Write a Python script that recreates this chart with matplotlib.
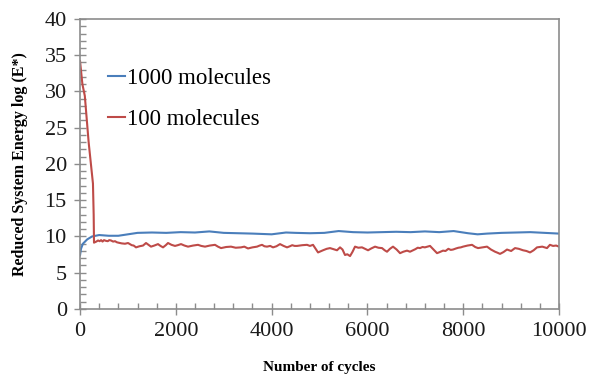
import matplotlib.pyplot as plt
from matplotlib.ticker import MultipleLocator

plt.rcParams['font.family'] = ['Liberation Serif', 'DejaVu Serif']

# 1000 molecules
cycles_1000 = [0, 20, 60, 150, 250, 400, 600, 800, 1000, 1200, 1500, 1800, 2100, 2400,
               2700, 3000, 3300, 3600, 4000, 4300, 4500, 4800, 5100, 5400, 5700, 6000,
               6300, 6600, 6900, 7200, 7500, 7800, 8100, 8300, 8500, 8800, 9100, 9400,
               9700, 10000]
energy_1000 = [7.4, 8.3, 9.0, 9.6, 10.0, 10.2, 10.1, 10.1, 10.3, 10.5, 10.55, 10.5, 10.6,
               10.55, 10.7, 10.5, 10.45, 10.4, 10.3, 10.55, 10.5, 10.45, 10.5, 10.75, 10.6,
               10.55, 10.6, 10.65, 10.6, 10.7, 10.6, 10.75, 10.45, 10.3, 10.4, 10.5, 10.55,
               10.6, 10.5, 10.4]

# 100 molecules
cycles_100 = [0, 50, 100, 180, 270, 285, 292, 340, 376, 410, 440, 470, 501, 540, 580, 610,
              647, 690, 731, 770, 800, 870, 939, 1002, 1040, 1080, 1120, 1169, 1240, 1315,
              1378, 1430, 1482, 1550, 1628, 1680, 1733, 1790, 1837, 1910, 1983, 2040, 2109,
              2180, 2255, 2360, 2463, 2530, 2610, 2710, 2818, 2880, 2944, 3050, 3152, 3250,
              3361, 3430, 3507, 3600, 3695, 3750, 3800, 3850, 3904, 3970, 4029, 4100, 4175,
              4250, 4322, 4380, 4430, 4480, 4530, 4640, 4739, 4800, 4864, 4920, 4969, 5020,
              5073, 5150, 5219, 5290, 5365, 5428, 5480, 5532, 5580, 5637, 5690, 5741, 5810,
              5887, 5950, 6013, 6080, 6159, 6230, 6305, 6360, 6409, 6470, 6534, 6610, 6681,
              6750, 6827, 6889, 6950, 7000, 7050, 7098, 7150, 7200, 7250, 7307, 7380, 7453,
              7510, 7578, 7630, 7690, 7740, 7787, 7850, 7900, 7950, 7996, 8090, 8184, 8250,
              8309, 8400, 8497, 8580, 8664, 8720, 8768, 8840, 8914, 9000, 9081, 9160, 9248,
              9320, 9395, 9470, 9541, 9650, 9749, 9810, 9875, 9940, 10000]
energy_100 = [34.2, 31.0, 29.4, 23.0, 17.3, 13.0, 9.15, 9.3, 9.45, 9.35, 9.5, 9.3, 9.5,
              9.4, 9.35, 9.5, 9.45, 9.3, 9.35, 9.2, 9.15, 9.05, 9.0, 9.1, 8.95, 8.8, 8.75,
              8.5, 8.65, 8.75, 9.1, 8.85, 8.6, 8.75, 8.95, 8.7, 8.5, 8.8, 9.1, 8.85, 8.7,
              8.8, 8.95, 8.75, 8.6, 8.75, 8.85, 8.7, 8.6, 8.75, 8.85, 8.6, 8.4, 8.55, 8.6,
              8.45, 8.5, 8.6, 8.35, 8.5, 8.6, 8.75, 8.85, 8.65, 8.6, 8.7, 8.5, 8.65, 8.95,
              8.7, 8.5, 8.65, 8.8, 8.7, 8.7, 8.8, 8.85, 8.7, 8.85, 8.3, 7.8, 7.95, 8.1,
              8.3, 8.4, 8.25, 8.1, 8.5, 8.2, 7.45, 7.55, 7.3, 7.9, 8.6, 8.45, 8.5, 8.3,
              8.1, 8.35, 8.6, 8.45, 8.4, 8.1, 7.9, 8.3, 8.6, 8.2, 7.7, 7.9, 8.05, 7.9,
              8.1, 8.25, 8.45, 8.4, 8.55, 8.5, 8.6, 8.7, 8.2, 7.7, 7.85, 8.05, 8.0, 8.3,
              8.15, 8.2, 8.35, 8.45, 8.5, 8.6, 8.75, 8.85, 8.55, 8.4, 8.5, 8.6, 8.2, 7.9,
              7.75, 7.6, 7.85, 8.2, 8.0, 8.4, 8.3, 8.1, 8.0, 7.8, 8.1, 8.5, 8.6, 8.4, 8.85,
              8.7, 8.75, 8.6]

fig = plt.figure(figsize=(5.91, 3.77), dpi=100)
ax = fig.add_axes([0.1354, 0.1804, 0.8105, 0.7692])

ax.plot(cycles_1000, energy_1000, color='#4A7EBB', lw=1.5, label='1000 molecules')
ax.plot(cycles_100, energy_100, color='#BE4B48', lw=1.5, label='100 molecules')

ax.set_xlim(0, 10000)
ax.set_ylim(0, 40)
ax.xaxis.set_major_locator(MultipleLocator(2000))
ax.xaxis.set_minor_locator(MultipleLocator(400))
ax.yaxis.set_major_locator(MultipleLocator(5))
ax.yaxis.set_minor_locator(MultipleLocator(1))

for s in ax.spines.values():
    s.set_color('#8C8C8C')
    s.set_linewidth(1.2)

ax.tick_params(which='major', direction='inout', length=9, width=1.0,
               color='#8C8C8C', labelsize=16, labelcolor='#1A1A1A', pad=5)
ax.tick_params(which='minor', direction='in', length=4, width=1.0, color='#8C8C8C')

ax.set_xlabel('Number of cycles', fontsize=11, fontweight='bold', labelpad=14)
ax.set_ylabel('Reduced System Energy log (E*)', fontsize=11.5, fontweight='bold', labelpad=12)

ax.legend(loc='upper left', bbox_to_anchor=(0.058, 0.832), frameon=False, fontsize=16.5,
          handlelength=0.75, handletextpad=0.1, labelspacing=0.9, borderaxespad=0,
          borderpad=0)

fig.savefig('out.png', dpi=100)
